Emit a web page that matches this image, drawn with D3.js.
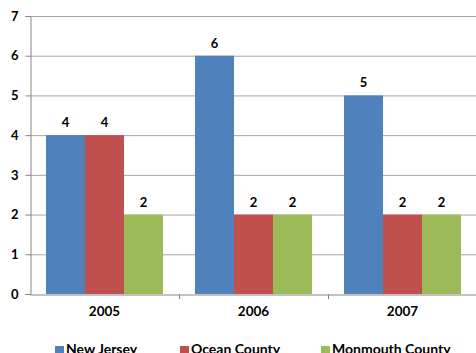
<!DOCTYPE html>
<html><head><meta charset="utf-8">
<script src="https://cdn.jsdelivr.net/npm/d3@7"></script>
<style>body{margin:0;background:#fff;} svg{display:block;} text{font-family:Lato,"Open Sans",sans-serif;font-weight:bold;fill:#000;}</style>
</head><body><svg id="c" width="476" height="353"></svg>
<script>
const categories = ["2005", "2006", "2007"];
const seriesNames = ["New Jersey", "Ocean County", "Monmouth County"];
const newJersey = [4, 6, 5];
const oceanCounty = [4, 2, 2];
const monmouthCounty = [2, 2, 2];
const yTicks = [0, 1, 2, 3, 4, 5, 6, 7];
const colors = ["#4F81BD", "#C0504D", "#9BBB59"];

(function () {
const seriesValues = [newJersey, oceanCounty, monmouthCounty];
const svg = d3.select("#c");
const mLeft = 30, mRight = 477, mTop = 16, mBottom = 294;
const x = d3.scaleBand().domain(categories).range([mLeft, mRight]);
const xi = d3.scaleBand().domain(seriesNames).range([16, x.bandwidth() - 16]).padding(0);
const y = d3.scaleLinear().domain([0, 7]).range([mBottom, mTop]);

// gridlines
svg.append("g").selectAll("line").data(yTicks.filter(d => d > 0)).join("line")
  .attr("x1", mLeft).attr("x2", 476).attr("y1", d => y(d) + 0.5).attr("y2", d => y(d) + 0.5)
  .attr("stroke", "#a6a6a6").attr("stroke-width", 1);

// bars
categories.forEach((c, ci) => {
  seriesNames.forEach((s, si) => {
    const v = seriesValues[si][ci];
    svg.append("rect").attr("x", x(c) + xi(s)).attr("y", y(v))
      .attr("width", xi.bandwidth()).attr("height", y(0) - y(v)).attr("fill", colors[si]);
    svg.append("text").attr("x", x(c) + xi(s) + xi.bandwidth() / 2).attr("y", y(v) - 8)
      .attr("text-anchor", "middle").attr("font-size", 13).text(v);
  });
});

// y axis
const ya = svg.append("g").attr("transform", `translate(${mLeft + 0.5},0)`)
  .call(d3.axisLeft(y).tickValues(yTicks).tickSize(5).tickPadding(7).tickFormat(d3.format("d")));
ya.select(".domain").attr("stroke", "#868686");
ya.selectAll(".tick line").attr("stroke", "#868686");
ya.selectAll("text").attr("font-size", 13).style("font-family", "Lato").style("font-weight", "bold");

// x axis
const xa = svg.append("g").attr("transform", `translate(0,${mBottom + 0.5})`)
  .call(d3.axisBottom(x).tickSize(0).tickPadding(12));
xa.select(".domain").attr("stroke", "#868686");
xa.selectAll("text").attr("font-size", 13.5).style("font-family", "Lato").style("font-weight", "bold");
svg.append("g").selectAll("line").data(categories.slice(1).concat(["end"])).join("line")
  .attr("x1", (d, i) => Math.round(x(categories[0]) + x.bandwidth() * (i + 1)) + 0.5)
  .attr("x2", (d, i) => Math.round(x(categories[0]) + x.bandwidth() * (i + 1)) + 0.5)
  .attr("y1", mBottom).attr("y2", mBottom + 5).attr("stroke", "#868686");

// legend
const legendX = [55, 180, 321];
seriesNames.forEach((s, i) => {
  svg.append("rect").attr("x", legendX[i]).attr("y", 346).attr("width", 9).attr("height", 9).attr("fill", colors[i]);
  svg.append("text").attr("x", legendX[i] + 11).attr("y", 353.5).attr("font-size", 14).text(s);
});
})();
</script></body></html>
